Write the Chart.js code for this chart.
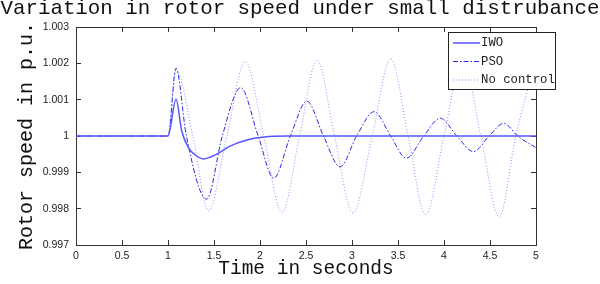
<!DOCTYPE html>
<html lang="en">
<head>
    <meta charset="UTF-8">
    <title>Variation in rotor speed under small distrubance</title>
    <script src="https://cdn.jsdelivr.net/npm/chart.js"></script>
    <style>
        html, body { margin: 0; padding: 0; background: #ffffff; }
        #wrap { width: 600px; height: 284px; }
    </style>
</head>
<body>
<div id="wrap"><canvas id="rotorChart" width="600" height="284"></canvas></div>

<script>
  // values (time in s, speed in p.u.)
  const xTicks = [0, 0.5, 1, 1.5, 2, 2.5, 3, 3.5, 4, 4.5, 5];
  const yTicks = [0.997, 0.998, 0.999, 1, 1.001, 1.002, 1.003];
  const seriesNames = ['IWO', 'PSO', 'No control'];

  const iwoTime  = [0, 1.0, 1.087, 1.15, 1.22, 1.30, 1.384, 1.53, 1.674, 1.855, 2.0, 2.3, 5.0];
  const iwoSpeed = [1, 1, 1.00101, 1.00013, 0.99969, 0.99947, 0.99937, 0.9995, 0.99972, 0.99989, 0.99996, 1, 1];

  const psoTime  = [0, 1.0, 1.087, 1.2, 1.42, 1.59, 1.79, 1.98, 2.15, 2.33, 2.51, 2.69, 2.87, 3.05, 3.24, 3.42, 3.59, 3.78, 3.96, 4.14, 4.32, 4.49, 4.65, 4.8, 5.0];
  const psoSpeed = [1, 1, 1.00187, 1.0, 0.99826, 1.0, 1.00133, 1.0, 0.99884, 1.0, 1.00096, 1.0, 0.99915, 1.0, 1.00067, 1.0, 0.99939, 1.0, 1.00049, 1.0, 0.99957, 1.0, 1.00035, 1.0, 0.99968];

  const noTime  = [0, 1.0, 1.09, 1.27, 1.44, 1.64, 1.84, 2.04, 2.24, 2.43, 2.62, 2.81, 3.01, 3.22, 3.42, 3.61, 3.8, 4.0, 4.2, 4.4, 4.6, 4.78, 5.0];
  const noSpeed = [1, 1, 1.0018, 1.0, 0.99794, 1.0, 1.00205, 1.0, 0.9979, 1.0, 1.00209, 1.0, 0.99788, 1.0, 1.00213, 1.0, 0.99783, 1.0, 1.00216, 1.0, 0.99778, 1.0, 1.0021];

  function toPoints(t, v) {
      return t.map((x, i) => ({ x: x, y: v[i] }));
  }

  const frameColor = '#333333';
  const monoFont = "'Liberation Mono', 'DejaVu Sans Mono', monospace";
  const sansFont = "'Liberation Sans', Arial, sans-serif";

  // legend drawn inside the plot, matlab style (box sticks out on the right)
  const boxLegend = {
      id: 'boxLegend',
      afterDraw(chart) {
          const ctx = chart.ctx;
          const left = 448, top = 32, w = 107, h = 57;
          ctx.save();
          ctx.fillStyle = '#ffffff';
          ctx.fillRect(left, top, w, h);
          ctx.strokeStyle = '#222222';
          ctx.lineWidth = 1;
          ctx.strokeRect(left + 0.5, top + 0.5, w, h);
          ctx.font = '12.3px ' + monoFont;
          ctx.textBaseline = 'middle';
          chart.data.datasets.forEach((ds, i) => {
              const y = top + 11 + i * 18.5;
              ctx.strokeStyle = ds.borderColor;
              ctx.lineWidth = ds.borderWidth;
              ctx.setLineDash(ds.borderDash || []);
              ctx.beginPath();
              ctx.moveTo(453, y);
              ctx.lineTo(480, y);
              ctx.stroke();
              ctx.setLineDash([]);
              ctx.fillStyle = '#222222';
              ctx.fillText(ds.label, 481, y);
          });
          ctx.restore();
      }
  };

  const ctx = document.getElementById('rotorChart').getContext('2d');
  new Chart(ctx, {
      type: 'line',
      data: {
          datasets: [
              {
                  label: seriesNames[0],
                  data: toPoints(iwoTime, iwoSpeed),
                  borderColor: 'rgb(85, 85, 255)',
                  borderWidth: 1.5,
                  borderDash: [],
                  pointRadius: 0,
                  cubicInterpolationMode: 'monotone',
                  fill: false
              },
              {
                  label: seriesNames[1],
                  data: toPoints(psoTime, psoSpeed),
                  borderColor: 'rgb(40, 40, 235)',
                  borderWidth: 1,
                  borderDash: [5, 2, 1.5, 2],
                  pointRadius: 0,
                  cubicInterpolationMode: 'monotone',
                  fill: false
              },
              {
                  label: seriesNames[2],
                  data: toPoints(noTime, noSpeed),
                  borderColor: 'rgb(140, 140, 255)',
                  borderWidth: 1,
                  borderDash: [1, 2],
                  pointRadius: 0,
                  cubicInterpolationMode: 'monotone',
                  fill: false
              }
          ]
      },
      options: {
          responsive: false,
          animation: false,
          layout: { padding: 0 },
          plugins: {
              legend: { display: false },
              tooltip: { enabled: false },
              title: {
                  display: true,
                  text: 'Variation in rotor speed under small distrubance',
                  color: '#111111',
                  font: { family: monoFont, size: 20.8, weight: 'normal', lineHeight: 0.8 },
                  padding: { top: 0, bottom: 10.4 }
              }
          },
          scales: {
              x: {
                  type: 'linear',
                  position: 'bottom',
                  min: 0, max: 5,
                  afterBuildTicks: s => { s.ticks = xTicks.map(v => ({ value: v })); },
                  afterFit: s => { s.height = 39; },
                  ticks: {
                      color: '#222222',
                      padding: 10.2,
                      maxRotation: 0,
                      font: { family: sansFont, size: 10.5 },
                      callback: v => String(+v.toFixed(2))
                  },
                  grid: { drawOnChartArea: false, tickLength: -5, color: frameColor },
                  border: { display: true, color: frameColor },
                  title: {
                      display: true,
                      text: 'Time in seconds',
                      color: '#111111',
                      font: { family: monoFont, size: 19.5 },
                      padding: { top: 0, bottom: 3.5 }
                  }
              },
              y: {
                  type: 'linear',
                  position: 'left',
                  min: 0.997, max: 1.003,
                  afterBuildTicks: s => { s.ticks = yTicks.map(v => ({ value: v })); },
                  afterFit: s => { s.width = 76; },
                  ticks: {
                      color: '#222222',
                      padding: 12,
                      font: { family: sansFont, size: 10.5 },
                      callback: v => String(+v.toFixed(3))
                  },
                  grid: { drawOnChartArea: false, tickLength: -5, color: frameColor },
                  border: { display: true, color: frameColor },
                  title: {
                      display: true,
                      text: 'Rotor speed in p.u.',
                      color: '#111111',
                      font: { family: monoFont, size: 20 },
                      padding: { top: 15, bottom: 0 }
                  }
              },
              x2: {
                  type: 'linear',
                  position: 'top',
                  min: 0, max: 5,
                  afterBuildTicks: s => { s.ticks = xTicks.map(v => ({ value: v })); },
                  afterFit: s => { s.height = 0; },
                  ticks: { display: false },
                  grid: { drawOnChartArea: false, tickLength: -5, color: frameColor },
                  border: { display: true, color: frameColor }
              },
              y2: {
                  type: 'linear',
                  position: 'right',
                  min: 0.997, max: 1.003,
                  afterBuildTicks: s => { s.ticks = yTicks.map(v => ({ value: v })); },
                  afterFit: s => { s.width = 64; },
                  ticks: { display: false },
                  grid: { drawOnChartArea: false, tickLength: -5, color: frameColor },
                  border: { display: true, color: frameColor }
              }
          }
      },
      plugins: [boxLegend]
  });
</script>
</body>
</html>
